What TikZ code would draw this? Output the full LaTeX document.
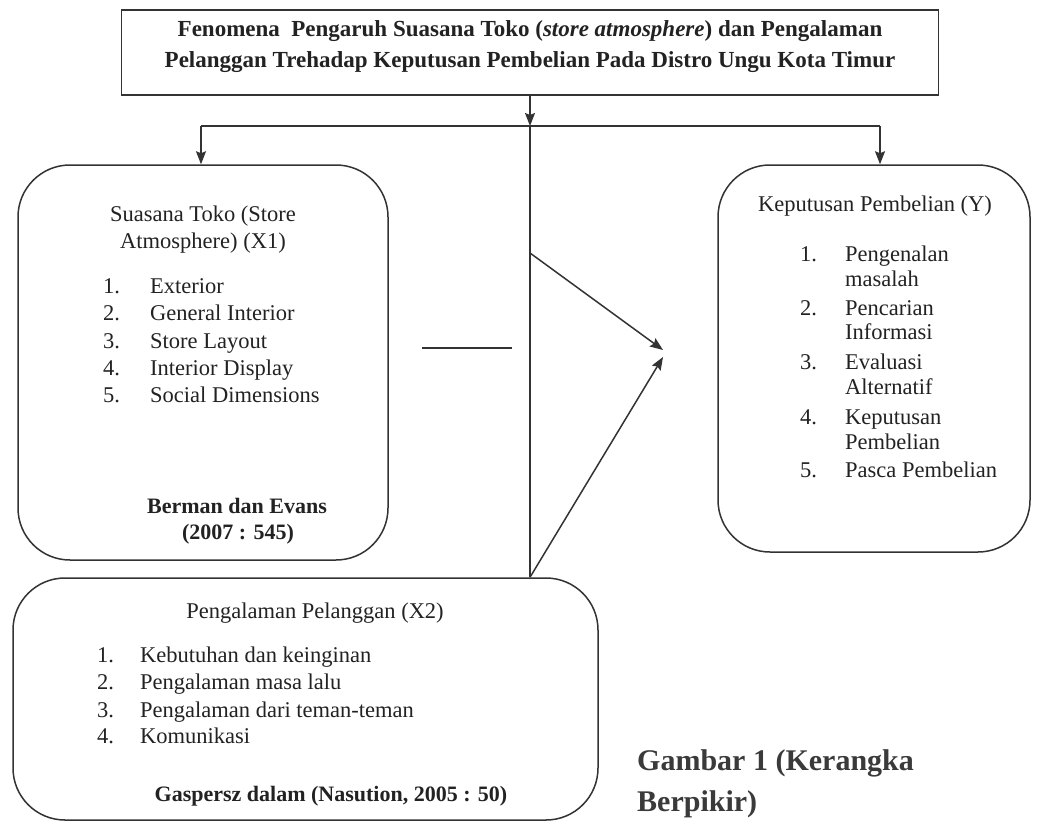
\documentclass[tikz,border=0pt]{standalone}
\usepackage{fontspec}
\setmainfont{Liberation Serif}
\usetikzlibrary{arrows.meta}
\definecolor{lc}{HTML}{333333}
\definecolor{tc}{HTML}{222222}
\definecolor{gc}{HTML}{3a3a3a}
\begin{document}
\begin{tikzpicture}[x=1pt,y=-1pt,
  line/.style={draw=lc, line width=1.5pt},
  arr/.style={line, -{Stealth[length=13pt,width=10pt,inset=2pt]}},
  rbox/.style={draw=lc, line width=1.5pt, rounded corners=52pt, inner sep=0pt},
  tbox/.style={draw=lc, line width=1.8pt, inner sep=0pt},
  txt/.style={text=tc, font=\fontsize{22.5}{27}\selectfont, inner sep=0pt, anchor=base},
  lst/.style={txt, anchor=base west},
  btxt/.style={txt, font=\fontsize{22}{27}\selectfont\bfseries},
  ttl/.style={txt, font=\fontsize{23}{31}\selectfont\bfseries},
  captxt/.style={text=gc, inner sep=0pt, anchor=base west, font=\fontsize{30}{40}\selectfont\bfseries}
]
\useasboundingbox (0,0) rectangle (1040,824);
\fill[white] (0,0) rectangle (1040,824);

% boxes
\node[tbox, minimum width=817pt, minimum height=85pt] (title) at (530,52.5) {};
\node[rbox, minimum width=370pt, minimum height=395pt] (x1) at (203,362.5) {};
\node[rbox, minimum width=585pt, minimum height=242pt] (x2) at (305.5,699) {};
\node[rbox, minimum width=312pt, minimum height=387pt] (yb) at (874,358.5) {};

% title text
\node[ttl] (tl1) at (530,37) {Fenomena\ \ Pengaruh Suasana Toko (\textit{store atmosphere}) dan Pengalaman};
\node[ttl] (tl2) at (530,68) {Pelanggan Trehadap Keputusan Pembelian Pada Distro Ungu Kota Timur};

% X1 text
\node[txt] (a0) at (203,221) {Suasana Toko (Store};
\node[txt] (a00) at (203,248) {Atmosphere) (X1)};
\node[lst] (an1) at (103,293) {1.}; \node[lst] (at1) at (150,293) {Exterior};
\node[lst] (an2) at (103,320) {2.}; \node[lst] (at2) at (150,320) {General Interior};
\node[lst] (an3) at (103,348) {3.}; \node[lst] (at3) at (150,348) {Store Layout};
\node[lst] (an4) at (103,375) {4.}; \node[lst] (at4) at (150,375) {Interior Display};
\node[lst] (an5) at (103,402) {5.}; \node[lst] (at5) at (150,402) {Social Dimensions};
\node[btxt] (ab1) at (237,513) {Berman dan Evans};
\node[btxt] (ab2) at (238,539) {(2007 : 545)};

% Y text
\node[txt] (y0) at (875,211) {Keputusan Pembelian (Y)};
\node[lst] (yn1) at (800,261) {1.}; \node[lst] (yt1) at (845,261) {Pengenalan};
\node[lst] (yt1b) at (845,286) {masalah};
\node[lst] (yn2) at (800,315) {2.}; \node[lst] (yt2) at (845,315) {Pencarian};
\node[lst] (yt2b) at (845,339) {Informasi};
\node[lst] (yn3) at (800,369) {3.}; \node[lst] (yt3) at (845,369) {Evaluasi};
\node[lst] (yt3b) at (845,394) {Alternatif};
\node[lst] (yn4) at (800,424) {4.}; \node[lst] (yt4) at (845,424) {Keputusan};
\node[lst] (yt4b) at (845,449) {Pembelian};
\node[lst] (yn5) at (800,477) {5.}; \node[lst] (yt5) at (845,477) {Pasca Pembelian};

% X2 text
\node[txt] (b0) at (315,618) {Pengalaman Pelanggan (X2)};
\node[lst] (bn1) at (97,662) {1.}; \node[lst] (bt1) at (140,662) {Kebutuhan dan keinginan};
\node[lst] (bn2) at (97,689) {2.}; \node[lst] (bt2) at (140,689) {Pengalaman masa lalu};
\node[lst] (bn3) at (97,717) {3.}; \node[lst] (bt3) at (140,717) {Pengalaman dari teman-teman};
\node[lst] (bn4) at (97,743) {4.}; \node[lst] (bt4) at (140,743) {Komunikasi};
\node[btxt] (bb) at (331,801) {Gaspersz dalam (Nasution, 2005 : 50)};

% caption
\node[captxt] (g1) at (637,770) {Gambar 1 (Kerangka};
\node[captxt] (g2) at (637,811) {Berpikir)};

% connectors
\coordinate (j) at (530,126);
\coordinate (lt) at (201,126);
\coordinate (rt) at (880,126);
\coordinate (d1) at (530,253);
\coordinate (tip1) at (663,350);
\coordinate (tip2) at (663,357);
\coordinate (s1) at (422,348);
\coordinate (s2) at (512,348);
\draw[arr] (title.south) -- (j);
\draw[line] (lt) -- (rt);
\draw[arr] (lt) -- (lt |- x1.north);
\draw[arr] (rt) -- (rt |- yb.north);
\draw[line] (j) -- (j |- x2.north);
\draw[arr] (d1) -- (tip1);
\draw[arr] (j |- x2.north) -- (tip2);
\draw[line] (s1) -- (s2);
\end{tikzpicture}
\end{document}
